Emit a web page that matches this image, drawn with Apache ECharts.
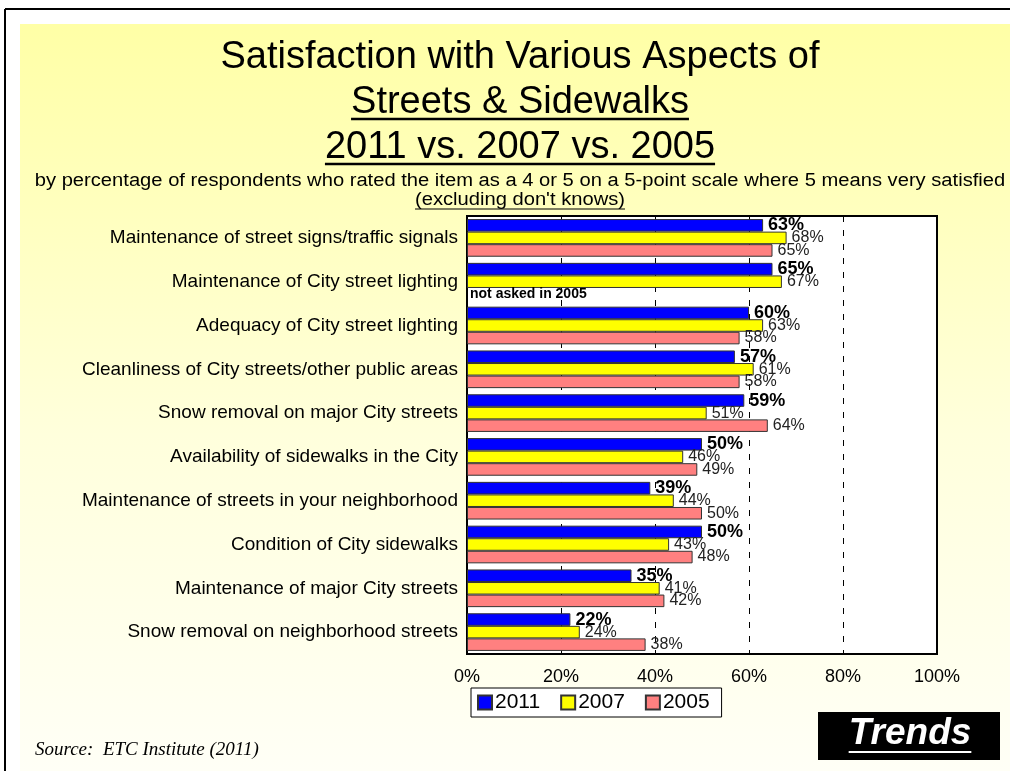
<!DOCTYPE html>
<html>
<head>
<meta charset="utf-8">
<script src="https://cdn.jsdelivr.net/npm/echarts@6/dist/echarts.min.js"></script>
<style>
  html, body { margin: 0; padding: 0; background: #fff; }
  #main { width: 1010px; height: 771px; }
</style>
</head>
<body>
<div id="main"></div>
<script>
// categories top -> bottom
var categories = [
    'Maintenance of street signs/traffic signals',
    'Maintenance of City street lighting',
    'Adequacy of City street lighting',
    'Cleanliness of City streets/other public areas',
    'Snow removal on major City streets',
    'Availability of sidewalks in the City',
    'Maintenance of streets in your neighborhood',
    'Condition of City sidewalks',
    'Maintenance of major City streets',
    'Snow removal on neighborhood streets'
];
var years = ['2011', '2007', '2005'];
var values2011 = [63, 65, 60, 57, 59, 50, 39, 50, 35, 22];
var values2007 = [68, 67, 63, 61, 51, 46, 44, 43, 41, 24];
var values2005 = [65, null, 58, 58, 64, 49, 50, 48, 42, 38]; // null = not asked in 2005
var xTicks = [0, 20, 40, 60, 80, 100];

var titleLines = ['Satisfaction with Various Aspects of', 'Streets & Sidewalks', '2011 vs. 2007 vs. 2005'];
var subTitle = 'by percentage of respondents who rated the item as a 4 or 5 on a 5-point scale where 5 means very satisfied';
var subTitle2 = "(excluding don't knows)";

var FONT = '"Liberation Sans", Arial, sans-serif';

// measure text for underlines
var cv = document.createElement('canvas').getContext('2d');
function textW(txt, font) {
    cv.font = font;
    return cv.measureText(txt).width;
}

var cx = 520;
var titleFont = '38px ' + FONT;
var subFont = '18px ' + FONT;
var subScale = 1.12; // reference text is a bit wider than Liberation Sans
var w2 = textW(titleLines[1], titleFont);
var w3 = textW(titleLines[2], titleFont);
var ws2 = textW(subTitle2, subFont) * subScale;
var trendsFont = 'italic bold 37px ' + FONT;
var wTr = textW('Trends', trendsFont);

var data2005 = values2005.map(function (v) {
    if (v == null) {
        return {
            value: 0,
            itemStyle: { borderWidth: 0, color: 'rgba(0,0,0,0)' },
            label: {
                formatter: 'not asked in 2005',
                fontSize: 14, fontWeight: 'bold', color: '#000', distance: 3
            }
        };
    }
    return v;
});

var chart = echarts.init(document.getElementById('main'));

var barBorder = { borderColor: '#333', borderWidth: 1 };

var option = {
    backgroundColor: '#fff',
    animation: false,
    graphic: [
        // background panel
        { type: 'rect', shape: { x: 20, y: 24, width: 990, height: 747 }, z: -10,
          style: { fill: new echarts.graphic.LinearGradient(0, 0, 0, 1, [
              { offset: 0, color: '#ffffa6' },
              { offset: 0.55, color: '#ffffdc' },
              { offset: 1, color: '#fffff6' }
          ]) } },
        // frame
        { type: 'line', shape: { x1: 5, y1: 9, x2: 1010, y2: 9 }, style: { stroke: '#000', lineWidth: 2 } },
        { type: 'line', shape: { x1: 5, y1: 9, x2: 5, y2: 771 }, style: { stroke: '#000', lineWidth: 2 } },
        // title
        { type: 'text', style: { text: titleLines[0], x: cx, y: 58, textAlign: 'center', textVerticalAlign: 'middle', font: titleFont, fill: '#000' } },
        { type: 'text', style: { text: titleLines[1], x: cx, y: 103, textAlign: 'center', textVerticalAlign: 'middle', font: titleFont, fill: '#000' } },
        { type: 'line', shape: { x1: cx - w2 / 2, y1: 119, x2: cx + w2 / 2, y2: 119 }, style: { stroke: '#000', lineWidth: 2.5 } },
        { type: 'text', style: { text: titleLines[2], x: cx, y: 148, textAlign: 'center', textVerticalAlign: 'middle', font: titleFont, fill: '#000' } },
        { type: 'line', shape: { x1: cx - w3 / 2, y1: 164, x2: cx + w3 / 2, y2: 164 }, style: { stroke: '#000', lineWidth: 2.5 } },
        // subtitles
        { type: 'text', x: cx, y: 181, scaleX: subScale,
          style: { text: subTitle, x: 0, y: 0, textAlign: 'center', textVerticalAlign: 'middle', font: subFont, fill: '#000' } },
        { type: 'text', x: cx, y: 200, scaleX: subScale,
          style: { text: subTitle2, x: 0, y: 0, textAlign: 'center', textVerticalAlign: 'middle', font: subFont, fill: '#000' } },
        { type: 'line', shape: { x1: cx - ws2 / 2, y1: 209, x2: cx + ws2 / 2, y2: 209 }, style: { stroke: '#000', lineWidth: 1.2 } },
        // source
        { type: 'text', style: { text: 'Source:  ETC Institute (2011)', x: 35, y: 750, textAlign: 'left', textVerticalAlign: 'middle', font: 'italic 19px "Liberation Serif", "Times New Roman", serif', fill: '#000' } },
        // trends box
        { type: 'rect', shape: { x: 818, y: 712, width: 182, height: 48 }, style: { fill: '#000' } },
        { type: 'text', style: { text: 'Trends', x: 910, y: 734, textAlign: 'center', textVerticalAlign: 'middle', font: trendsFont, fill: '#fff' } },
        { type: 'line', shape: { x1: 910 - wTr / 2, y1: 752, x2: 910 + wTr / 2, y2: 752 }, style: { stroke: '#fff', lineWidth: 2 } }
    ],
    legend: {
        data: years,
        left: 471,
        top: 688,
        icon: 'rect',
        itemWidth: 14,
        itemHeight: 14,
        itemGap: 20,
        backgroundColor: '#fff',
        borderColor: '#000',
        borderWidth: 1,
        padding: [4, 12, 4, 6],
        textStyle: { fontSize: 21, color: '#000', fontFamily: FONT, padding: [0, 0, 0, -2] }
    },
    grid: {
        left: 467,
        top: 216,
        width: 470,
        height: 438,
        show: true,
        backgroundColor: '#fff',
        borderColor: '#000',
        borderWidth: 2
    },
    xAxis: {
        type: 'value',
        min: xTicks[0],
        max: xTicks[xTicks.length - 1],
        interval: 20,
        axisLine: { show: true, lineStyle: { color: '#000', width: 2 } },
        axisTick: { show: false },
        splitLine: { show: true, lineStyle: { color: '#000', width: 1, type: [6, 8] } },
        axisLabel: { formatter: '{value}%', fontSize: 18, color: '#000', fontFamily: FONT, margin: 14 }
    },
    yAxis: {
        type: 'category',
        data: categories,
        inverse: true,
        axisLine: { show: false },
        axisTick: { show: false },
        axisLabel: { fontSize: 19, color: '#000', fontFamily: FONT, margin: 9 }
    },
    series: [
        {
            name: '2011', type: 'bar', data: values2011,
            barGap: '0%', barCategoryGap: '14%',
            itemStyle: Object.assign({ color: '#0000ff' }, barBorder),
            label: { show: true, position: 'right', distance: 5, formatter: '{c}%', fontSize: 18, fontWeight: 'bold', color: '#000', fontFamily: FONT }
        },
        {
            name: '2007', type: 'bar', data: values2007,
            barGap: '0%', barCategoryGap: '14%',
            itemStyle: Object.assign({ color: '#ffff00' }, barBorder),
            label: { show: true, position: 'right', distance: 5, formatter: '{c}%', fontSize: 16, color: '#222', fontFamily: FONT }
        },
        {
            name: '2005', type: 'bar', data: data2005,
            barGap: '0%', barCategoryGap: '14%',
            itemStyle: Object.assign({ color: '#ff8080' }, barBorder),
            label: { show: true, position: 'right', distance: 5, formatter: '{c}%', fontSize: 16, color: '#222', fontFamily: FONT }
        }
    ]
};

chart.setOption(option);
</script>
</body>
</html>
